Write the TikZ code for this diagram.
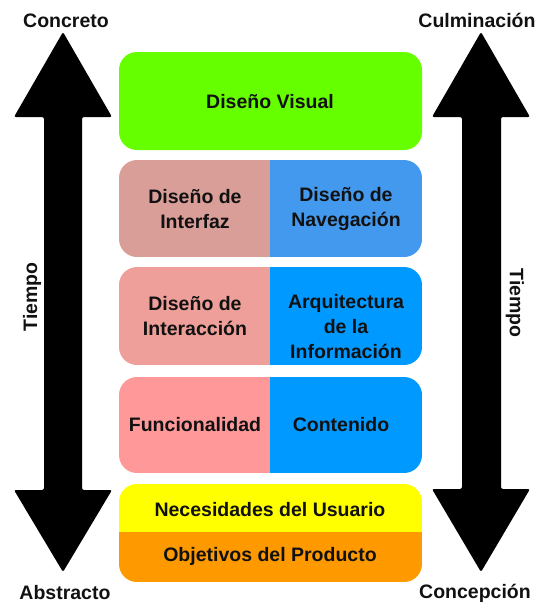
\documentclass[tikz,border=0pt]{standalone}
\usepackage{fontspec}
\setmainfont{Liberation Sans}
\definecolor{cgreen}{HTML}{66FF00}
\definecolor{cpinkA}{HTML}{D99E98}
\definecolor{cblueA}{HTML}{4299EE}
\definecolor{cpinkB}{HTML}{EE9F99}
\definecolor{cblueB}{HTML}{0099FF}
\definecolor{cpinkC}{HTML}{FF9999}
\definecolor{cyell}{HTML}{FFFF00}
\definecolor{corange}{HTML}{FF9900}
\definecolor{ctext}{HTML}{111111}
\begin{document}
\begin{tikzpicture}[x=1pt,y=-1pt,
  lbl/.style={font=\bfseries\fontsize{19.5}{25}\selectfont, text=ctext, align=center, inner sep=0pt},
  side/.style={font=\bfseries\fontsize{19.5}{22}\selectfont, text=ctext, inner sep=0pt},
  bigarrow/.style={fill=black, rounded corners=2pt}]
\useasboundingbox (0,0) rectangle (540,603);
% ---- arrows
\fill[bigarrow] (63,32) -- (112,117) -- (82,117) -- (82,490) -- (112,490) -- (63,572)
  -- (14,490) -- (44,490) -- (44,117) -- (14,117) -- cycle;
\fill[bigarrow] (481,32) -- (530,117) -- (501,117) -- (501,489) -- (530,489) -- (481,572)
  -- (432,489) -- (462,489) -- (462,117) -- (432,117) -- cycle;
% ---- boxes
\fill[cgreen, rounded corners=18pt] (119,52) rectangle (422,150);
\begin{scope}
  \clip[rounded corners=18pt] (119,160) rectangle (422,257);
  \fill[cpinkA] (119,160) rectangle (270,257);
  \fill[cblueA] (270,160) rectangle (422,257);
\end{scope}
\begin{scope}
  \clip[rounded corners=18pt] (119,267) rectangle (422,365);
  \fill[cpinkB] (119,267) rectangle (270,365);
  \fill[cblueB] (270,267) rectangle (422,365);
\end{scope}
\begin{scope}
  \clip[rounded corners=18pt] (119,377) rectangle (422,473);
  \fill[cpinkC] (119,377) rectangle (270,473);
  \fill[cblueB] (270,377) rectangle (422,473);
\end{scope}
\begin{scope}
  \clip[rounded corners=18pt] (119,484) rectangle (422,582);
  \fill[cyell] (119,484) rectangle (422,532);
  \fill[corange] (119,532) rectangle (422,582);
\end{scope}
% ---- box texts
\node[lbl] (dv) at (270,102) {Diseño Visual};
\node[lbl] (di) at (195,209) {Diseño de\\Interfaz};
\node[lbl] (dn) at (346,209) {Diseño de\\Navegación};
\node[lbl] (dint) at (195,316) {Diseño de\\Interacción};
\node[lbl] (ai) at (346,327) {Arquitectura\\de la\\Información};
\node[lbl] (fu) at (195,425) {Funcionalidad};
\node[lbl] (co) at (341,425) {Contenido};
\node[lbl] (nu) at (270,510) {Necesidades del Usuario};
\node[lbl] (op) at (270,556) {Objetivos del Producto};
% ---- side labels
\node[side, anchor=base] (conc) at (66,27) {Concreto};
\node[side, anchor=base] (abs) at (65,599) {Abstracto};
\node[side, anchor=base] (cul) at (477,27) {Culminación};
\node[side, anchor=base] (cep) at (475,598) {Concepción};
\node[side, rotate=90] (tl) at (32,297) {Tiempo};
\node[side, rotate=-90] (tr) at (515,303) {Tiempo};
\end{tikzpicture}
\end{document}
